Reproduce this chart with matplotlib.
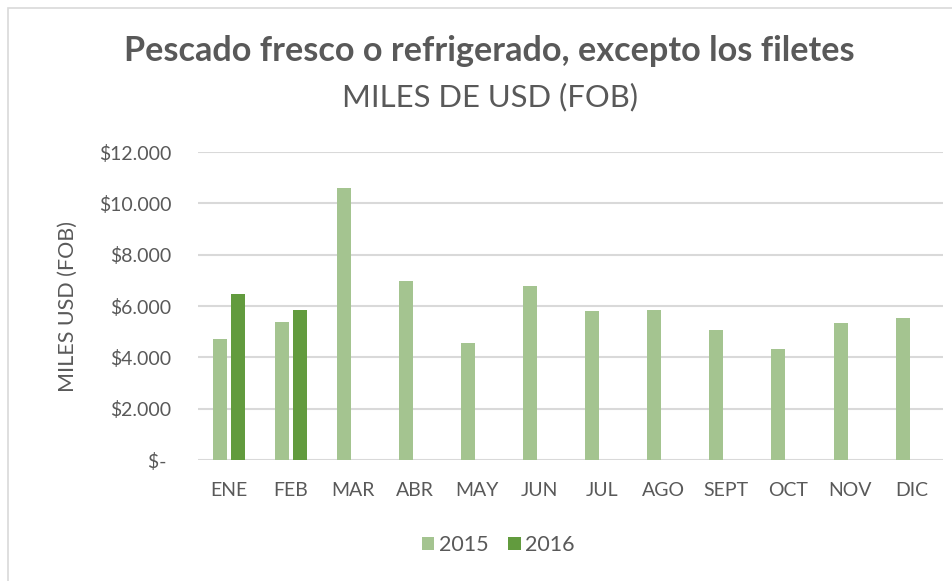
import matplotlib
matplotlib.use("Agg")
import matplotlib.pyplot as plt
import numpy as np
from matplotlib.ticker import FuncFormatter
from matplotlib.patches import Rectangle

plt.rcParams['font.family'] = ['Lato', 'DejaVu Sans']

months = ["ENE", "FEB", "MAR", "ABR", "MAY", "JUN", "JUL", "AGO", "SEPT", "OCT", "NOV", "DIC"]
v2015 = [4714, 5364, 10597, 6961, 4571, 6766, 5818, 5857, 5065, 4312, 5325, 5519]
v2016 = [6455, 5857]
series_names = ["2015", "2016"]

c2015 = "#A4C490"
c2016 = "#629B3E"
text_c = "#595959"

fig = plt.figure(figsize=(9.53, 5.81), dpi=100)
W, H = 953, 581
ax = fig.add_axes([198 / W, 1 - 460 / H, (943 - 198) / W, (460 - 152) / H])

# chart frame
fig.patches.append(Rectangle((8 / W, -0.1), 1.2, 1 - 8 / H + 0.1, transform=fig.transFigure,
                             fill=False, edgecolor="#D9D9D9", linewidth=1.2))

x = np.arange(len(months))
bw = 0.225
off = 0.15
ax.bar(x - off, v2015, width=bw, color=c2015, label=series_names[0], zorder=3)
ax.bar(x[:len(v2016)] + off, v2016, width=bw, color=c2016, label=series_names[1], zorder=3)

ax.set_xlim(-0.5, len(months) - 0.5)
ax.set_ylim(0, 12000)
ax.set_yticks(np.arange(0, 12001, 2000))
ax.yaxis.set_major_formatter(FuncFormatter(
    lambda v, p: "$- " if v == 0 else "$" + f"{int(v):,}".replace(",", ".")))
ax.set_xticks(x)
ax.set_xticklabels(months)
ax.tick_params(axis="both", length=0, labelsize=14, labelcolor=text_c)
ax.tick_params(axis="x", pad=16)
ax.tick_params(axis="y", pad=19)
ax.grid(axis="y", color="#D9D9D9", linewidth=1.5, zorder=0)
for s in ax.spines.values():
    s.set_visible(False)

ax.set_ylabel("MILES USD (FOB)", fontsize=15.5, color=text_c, labelpad=15)

fig.text(0.513, 1 - 51 / H, "Pescado fresco o refrigerado, excepto los filetes",
         ha="center", va="center", fontsize=24.7, fontweight="bold", color=text_c)
fig.text(0.514, 1 - 97 / H, "MILES DE USD (FOB)", ha="center", va="center",
         fontsize=22.3, color=text_c)

fig.legend(loc="center", bbox_to_anchor=(498 / W, 1 - 545 / H), ncol=2, frameon=False,
           fontsize=15.5, labelcolor=text_c, handlelength=0.6, handleheight=0.6,
           handletextpad=0.2, columnspacing=0.9)

fig.savefig("out.png", dpi=100)
